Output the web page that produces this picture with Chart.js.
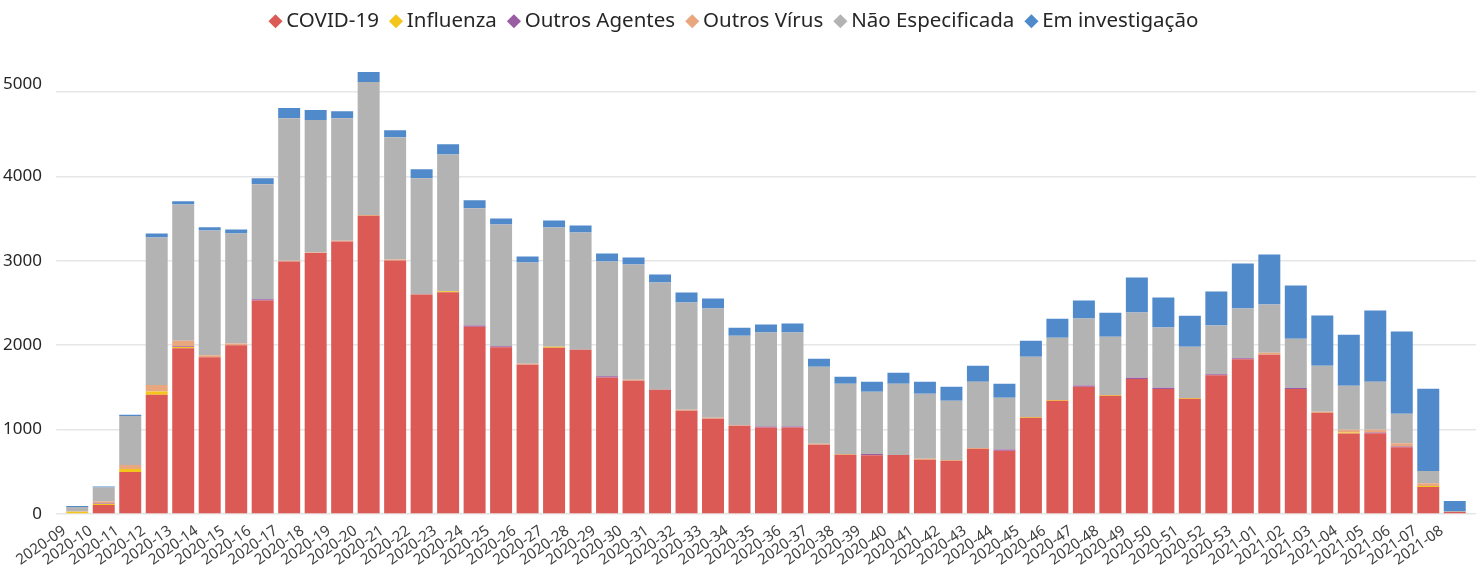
<!DOCTYPE html>
<html>
<head>
<meta charset="utf-8">
<script src="https://cdn.jsdelivr.net/npm/chart.js@4.4.1/dist/chart.umd.min.js"></script>
<style>
  html, body { margin: 0; padding: 0; background: #fff; }
  #wrap { width: 1484px; height: 567px; }
</style>
</head>
<body>
<div id="wrap"><canvas id="chart"></canvas></div>
<script>
// week labels
const weeks = [
  '2020-09','2020-10','2020-11','2020-12','2020-13','2020-14','2020-15','2020-16','2020-17','2020-18',
  '2020-19','2020-20','2020-21','2020-22','2020-23','2020-24','2020-25','2020-26','2020-27','2020-28',
  '2020-29','2020-30','2020-31','2020-32','2020-33','2020-34','2020-35','2020-36','2020-37','2020-38',
  '2020-39','2020-40','2020-41','2020-42','2020-43','2020-44','2020-45','2020-46','2020-47','2020-48',
  '2020-49','2020-50','2020-51','2020-52','2020-53','2021-01','2021-02','2021-03','2021-04','2021-05',
  '2021-06','2021-07','2021-08'
];

// series values
const covid = [0,107,498,1412,1962,1855,1998,2528,2991,3090,
  3228,3529,3003,2599,2627,2219,1974,1768,1970,1946,
  1618,1578,1472,1222,1127,1044,1025,1025,819,700,
  696,700,641,629,771,748,1139,1341,1507,1400,
  1598,1480,1365,1642,1832,1887,1480,1195,953,957,
  791,320,24];
const influenza = [28,12,36,40,16,0,0,0,0,0,
  0,0,0,0,10,0,0,0,10,0,
  0,0,0,0,0,0,0,0,0,0,
  0,0,0,0,0,0,10,10,0,10,
  0,0,10,0,0,0,0,0,12,0,
  0,12,0];
const outrosAgentes = [0,6,0,0,8,0,0,16,0,0,
  0,0,0,0,0,12,12,0,0,0,
  12,0,0,0,0,0,12,12,0,0,
  16,0,0,0,0,16,0,0,16,0,
  16,16,0,12,12,0,12,0,0,8,
  8,0,0];
const outrosVirus = [2,24,47,75,67,24,20,0,8,8,
  8,12,12,0,0,0,0,12,0,0,
  0,12,0,12,12,8,0,0,12,12,
  0,0,12,12,12,0,0,0,0,0,
  0,0,0,0,0,24,0,16,32,32,
  40,32,0];
const naoEspecificada = [53,166,581,1749,1614,1480,1305,1361,1689,1567,
  1452,1574,1448,1377,1622,1389,1444,1199,1412,1389,
  1361,1365,1270,1270,1294,1060,1112,1112,914,831,
  736,843,771,700,783,613,712,736,791,688,
  771,712,605,578,589,570,585,546,522,570,
  348,146,12];
const emInvestigacao = [12,12,12,47,36,36,47,71,119,119,
  83,119,83,107,119,95,71,71,83,83,
  95,83,95,119,119,95,95,107,95,83,
  119,131,142,166,190,166,190,225,214,285,
  415,356,368,404,534,593,629,593,605,843,
  973,973,119];

const yTicks = [0, 1000, 2000, 3000, 4000, 5000];

const fontFamily = "'Noto Sans', 'Open Sans', sans-serif";
const gridColor = '#e6e6e6';
const yMax = 5596;

const series = [
  { label: 'COVID-19', data: covid, color: '#dc5a55' },
  { label: 'Influenza', data: influenza, color: '#f4c51b' },
  { label: 'Outros Agentes', data: outrosAgentes, color: '#9a5da3' },
  { label: 'Outros Vírus', data: outrosVirus, color: '#e8a77f' },
  { label: 'Não Especificada', data: naoEspecificada, color: '#b3b3b3' },
  { label: 'Em investigação', data: emInvestigacao, color: '#518aca' }
];

const ctx = document.getElementById('chart').getContext('2d');
new Chart(ctx, {
  type: 'bar',
  data: {
    labels: weeks,
    datasets: series.map(s => ({
      label: s.label,
      data: s.data,
      backgroundColor: s.color,
      borderWidth: 0,
      categoryPercentage: 1,
      barPercentage: 0.83,
      yAxisID: 'y'
    }))
  },
  options: {
    responsive: true,
    maintainAspectRatio: false,
    animation: false,
    layout: { padding: { top: 5, left: 0, right: 0, bottom: 2 } },
    plugins: {
      tooltip: { enabled: false },
      legend: {
        position: 'top',
        labels: {
          usePointStyle: true,
          pointStyle: 'rectRot',
          boxWidth: 1,
          boxHeight: 10,
          padding: 6,
          color: '#262626',
          font: { family: fontFamily, size: 20.5 },
          // keep the diamond tight to its text, wider gap before the next item
          generateLabels: (chart) => Chart.defaults.plugins.legend.labels.generateLabels(chart)
            .map(item => Object.assign(item, { text: item.text + '  ' }))
        }
      }
    },
    scales: {
      x: {
        stacked: true,
        afterFit: (scale) => { scale.height = 51; },
        grid: { display: false },
        border: { display: false },
        ticks: {
          autoSkip: false,
          minRotation: 35,
          maxRotation: 35,
          padding: 0,
          labelOffset: -13,
          color: '#404040',
          font: { family: fontFamily, size: 15 }
        }
      },
      y: {
        stacked: true,
        min: 0,
        max: yMax,
        afterBuildTicks: (scale) => { scale.ticks = yTicks.map(v => ({ value: v })); },
        afterFit: (scale) => { scale.width = 64; },
        grid: { color: gridColor, lineWidth: 1.5, tickLength: 8 },
        border: { display: false },
        ticks: {
          padding: 14,
          color: '#262626',
          font: { family: fontFamily, size: 17, lineHeight: 0.95 },
          // top label sits a little above its gridline, as in the original
          callback: (value) => value === 5000 ? [String(value), ''] : String(value)
        }
      },
      y2: {
        position: 'right',
        min: 0,
        max: yMax,
        afterBuildTicks: (scale) => { scale.ticks = yTicks.map(v => ({ value: v })); },
        afterFit: (scale) => { scale.width = 16; },
        grid: { color: gridColor, lineWidth: 1.5, tickLength: 8, drawOnChartArea: false },
        border: { display: false },
        ticks: { display: false }
      }
    }
  }
});
</script>
</body>
</html>
